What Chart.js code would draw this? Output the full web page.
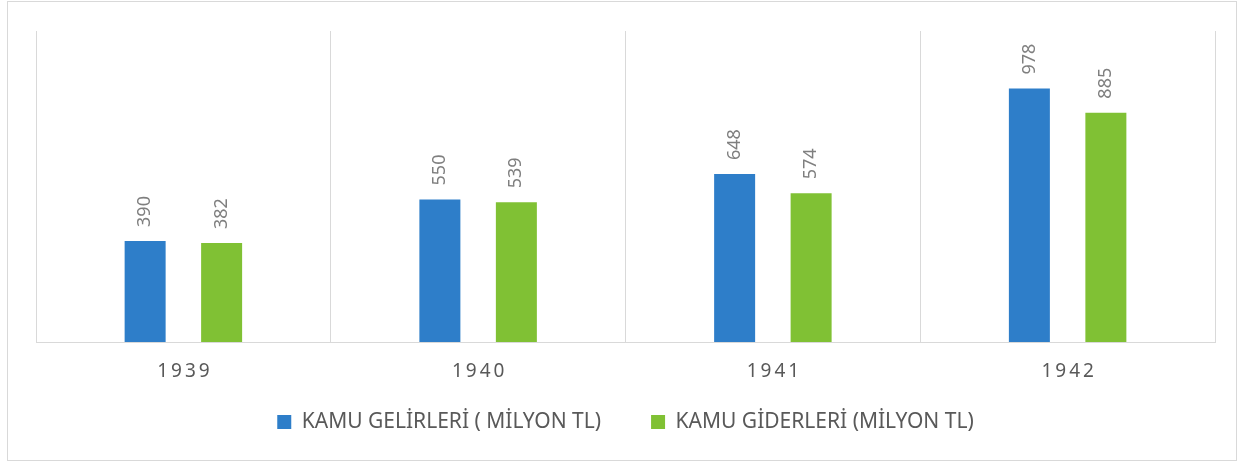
<!DOCTYPE html>
<html>
<head>
<meta charset="utf-8">
<script src="https://cdn.jsdelivr.net/npm/chart.js@4"></script>
<style>
  body { margin: 0; background: #fff; }
  #wrap { position: relative; width: 1242px; height: 463px; }
  #frame { position: absolute; left: 7px; top: 1px; width: 1228px; height: 458px; border: 1px solid #d9d9d9; pointer-events: none; }
  canvas { position: absolute; left: 0; top: 0; }
</style>
</head>
<body>
<div id="wrap">
  <canvas id="chart" width="1242" height="463"></canvas>
  <div id="frame"></div>
</div>
<script>
// veriler
const years = ['1939', '1940', '1941', '1942'];
const gelirler = [390, 550, 648, 978];
const giderler = [382, 539, 574, 885];
const seriesNames = ['KAMU GELİRLERİ ( MİLYON TL)', 'KAMU GİDERLERİ (MİLYON TL)'];

const FONT = "'Noto Sans', 'Open Sans', sans-serif";

// dik yazılmış değer etiketleri
const valueLabels = {
  id: 'valueLabels',
  afterDatasetsDraw(chart) {
    const ctx = chart.ctx;
    ctx.save();
    ctx.font = '18px ' + FONT;
    ctx.fillStyle = '#7f7f7f';
    ctx.textAlign = 'left';
    ctx.textBaseline = 'middle';
    chart.data.datasets.forEach((ds, i) => {
      chart.getDatasetMeta(i).data.forEach((bar, j) => {
        ctx.save();
        ctx.translate(bar.x, bar.y - 14);
        ctx.rotate(-Math.PI / 2);
        ctx.fillText(String(ds.data[j]), 0, 0);
        ctx.restore();
      });
    });
    ctx.restore();
  }
};

// yıl etiketleri (harf aralıklı)
const yearLabels = {
  id: 'yearLabels',
  afterDraw(chart) {
    const ctx = chart.ctx;
    const x = chart.scales.x;
    ctx.save();
    ctx.font = '19px ' + FONT;
    ctx.fillStyle = '#595959';
    ctx.textAlign = 'center';
    ctx.textBaseline = 'middle';
    ctx.letterSpacing = '3px';
    years.forEach((y, i) => {
      ctx.fillText(y, x.getPixelForValue(i) + 1.5, chart.chartArea.bottom + 30);
    });
    ctx.restore();
  }
};

new Chart(document.getElementById('chart'), {
  type: 'bar',
  data: {
    labels: years,
    datasets: [
      { label: seriesNames[0], data: gelirler, backgroundColor: '#2e7ec9' },
      { label: seriesNames[1], data: giderler, backgroundColor: '#80c134' }
    ]
  },
  options: {
    responsive: false,
    animation: false,
    events: [],
    categoryPercentage: 0.519,
    barPercentage: 0.536,
    layout: { padding: { left: 36, right: 27, top: 31, bottom: 20.5 } },
    scales: {
      x: {
        grid: { color: '#d9d9d9', offset: true, drawTicks: false },
        border: { color: '#d9d9d9', width: 1 },
        ticks: { display: false },
        afterFit: s => { s.height = 19.5; }
      },
      y: {
        display: false,
        min: 0,
        max: 1200
      }
    },
    plugins: {
      tooltip: { enabled: false },
      legend: {
        position: 'bottom',
        labels: {
          boxWidth: 14,
          boxHeight: 14,
          padding: 50,
          color: '#595959',
          font: { family: FONT, size: 21 }
        }
      }
    }
  },
  plugins: [valueLabels, yearLabels]
});
</script>
</body>
</html>
